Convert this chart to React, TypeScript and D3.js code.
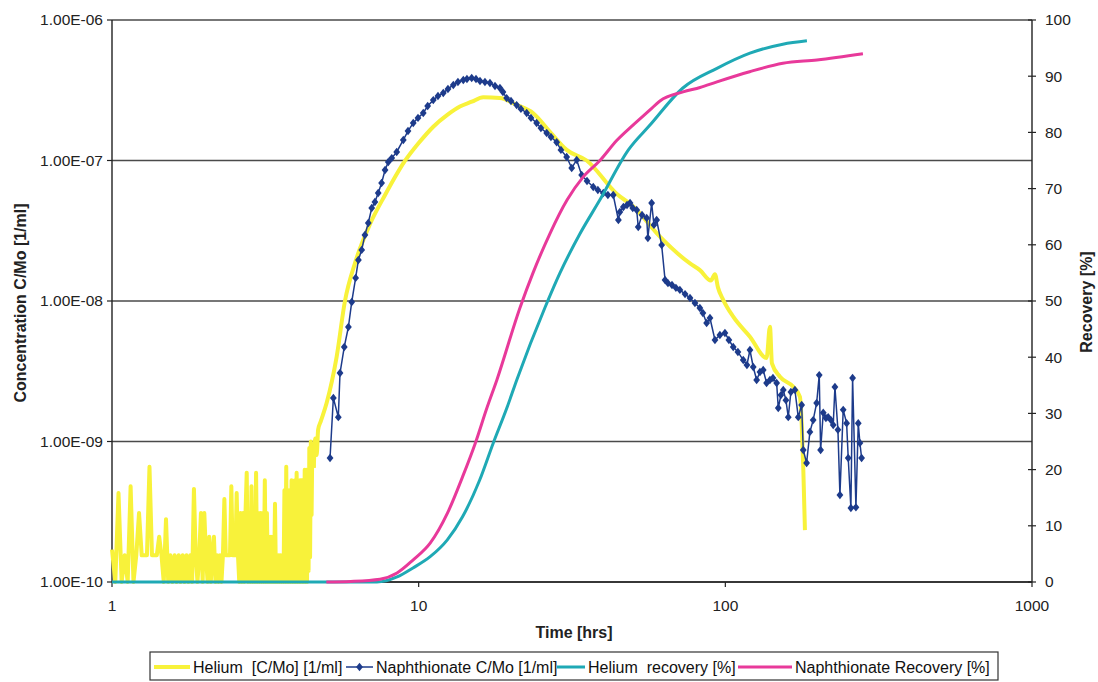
import React from "react";
import * as d3 from "d3";

// ---------- axes / ticks ----------
const xTickValues = [1, 10, 100, 1000];
const xTickLabels = ["1", "10", "100", "1000"];
const leftTickValues = [1e-10, 1e-9, 1e-8, 1e-7, 1e-6];
const leftTickLabels = ["1.00E-10", "1.00E-09", "1.00E-08", "1.00E-07", "1.00E-06"];
const rightTickValues = [0, 10, 20, 30, 40, 50, 60, 70, 80, 90, 100];

// ---------- Helium concentration (C/Mo, 1/ml) ----------
// background record: first sample at 1 h, one sample every 0.025 h, values in units of 1e-10
const heliumNoiseStartHr = 1.0;
const heliumNoiseStepHr = 0.025;
const heliumNoiseE10 = [
  1.7, 1.0, 4.3, 1.0, 1.55, 1.0, 4.8, 1.0, 1.55, 3.1,
  1.55, 1.55, 1.55, 6.6, 1.55, 1.55, 1.55, 2.1, 1.55, 1.0,
  2.8, 1.0, 1.55, 1.0, 1.55, 1.0, 1.55, 1.0, 1.55, 1.0,
  1.55, 1.0, 1.55, 1.0, 4.6, 1.55, 1.0, 1.55, 3.1, 1.0,
  3.1, 1.55, 1.0, 2.1, 1.0, 1.55, 2.1, 1.0, 1.55, 1.0,
  1.55, 1.0, 1.55, 3.9, 1.55, 1.55, 1.55, 1.55, 4.8, 1.55,
  1.55, 1.55, 4.3, 1.55, 1.0, 3.1, 1.0, 3.1, 1.0, 3.1,
  6.0, 1.0, 3.1, 1.0, 4.8, 1.0, 3.1, 1.0, 6.0, 1.0,
  3.1, 1.0, 3.1, 1.0, 3.1, 1.0, 5.3, 1.0, 3.1, 1.0,
  2.1, 1.0, 2.1, 1.0, 2.1, 1.0, 3.6, 1.0, 1.55, 1.0,
  1.55, 1.0, 1.55, 1.0, 1.55, 1.0, 4.5, 1.0, 6.6, 1.0,
  4.5, 1.0, 4.5, 1.0, 5.3, 1.0, 4.5, 1.0, 5.3, 1.0,
  6.0, 1.0, 4.8, 1.0, 5.3, 1.0, 5.3, 1.0, 5.3, 1.0,
  6.3, 1.0, 6.3, 1.0, 6.3, 1.2, 9.0, 1.5, 10.0, 3.0,
  9.5,
];
const heliumTimeHr = [
  4.55, 4.6, 4.65, 4.7, 4.8, 5.01, 5.4, 5.75, 6.2, 6.94, 7.77, 9.02, 10.0, 11.16,
  12.4, 13.63, 14.9, 16.24, 18.41, 20.87, 23.64, 26.8, 30.38, 35.3, 44.2, 50.1,
  61.2, 76.7, 82.6, 89.7, 92.5, 94.6, 98.4, 106.1, 120.3, 136.3, 139.8, 141.9,
  150.7, 166.5, 175.1, 177.4, 179.5, 181.8,
];
const heliumConc = [
  6.5e-10, 1.05e-9, 8e-10, 1.21e-9, 1.4e-9, 1.88e-9, 3.99e-9, 1.0e-8, 1.86e-8, 3.53e-8,
  5.68e-8, 9.92e-8, 1.33e-7, 1.74e-7, 2.11e-7, 2.42e-7, 2.62e-7, 2.82e-7, 2.78e-7,
  2.49e-7, 2.17e-7, 1.6e-7, 1.19e-7, 1.0e-7, 5.8e-8, 4.7e-8, 2.87e-8, 1.85e-8,
  1.66e-8, 1.4e-8, 1.55e-8, 1.25e-8, 1.02e-8, 7.73e-9, 5.57e-9, 3.93e-9, 6.57e-9,
  3.6e-9, 2.89e-9, 2.45e-9, 2.08e-9, 1.35e-9, 6.6e-10, 2.34e-10,
];

// ---------- Naphthionate concentration (C/Mo, 1/ml) ----------
const naphTimeHr = [
  5.14, 5.27, 5.47, 5.54, 5.72, 5.9, 6.05, 6.23, 6.36, 6.52, 6.68, 6.85, 7.03, 7.2,
  7.38, 7.57, 7.77, 7.96, 8.17, 8.48, 8.91, 9.23, 9.6, 9.95, 10.35, 10.7, 11.16,
  11.56, 12.03, 12.46, 12.97, 13.43, 13.98, 14.37, 14.89, 15.38, 15.85, 16.45,
  17.08, 17.74, 18.41, 18.83, 19.36, 20.0, 20.87, 21.55, 22.5, 23.24, 24.25,
  25.04, 26.15, 27.0, 28.18, 29.1, 30.38, 31.55, 32.76, 34.0, 35.4, 37.1, 38.4,
  40.0, 41.4, 43.1, 44.8, 45.3, 46.5, 47.8, 48.9, 49.9, 51.4, 52.0, 53.5, 55.4,
  55.9, 57.5, 58.5, 59.7, 62.0, 63.6, 65.0, 67.0, 69.0, 71.1, 73.9, 76.7, 79.6,
  82.6, 84.5, 86.9, 89.1, 92.5, 96.0, 99.7, 102.7, 106.1, 109.9, 114.4, 117.6,
  120.3, 123.3, 126.5, 129.7, 132.9, 136.3, 139.8, 143.0, 147.0, 148.8, 151.8,
  154.5, 157.6, 160.4, 163.6, 168.6, 172.9, 177.4, 179.5, 184.1, 188.7, 193.4,
  198.5, 202.4, 204.5, 208.6, 212.8, 216.5, 221.0, 224.8, 227.7, 232.9, 236.4,
  242.3, 248.6, 251.6, 256.7, 260.0, 266.6, 271.3, 274.7, 278.2,
];
const naphConc = [
  7.63e-10, 2.04e-9, 1.49e-9, 3.07e-9, 4.71e-9, 6.53e-9, 9.84e-9, 1.46e-8, 1.96e-8,
  2.31e-8, 2.95e-8, 3.59e-8, 4.59e-8, 5.07e-8, 5.87e-8, 6.92e-8, 8.56e-8, 9.76e-8,
  1.04e-7, 1.15e-7, 1.4e-7, 1.62e-7, 1.85e-7, 2.01e-7, 2.18e-7, 2.44e-7, 2.69e-7,
  2.88e-7, 3.02e-7, 3.23e-7, 3.45e-7, 3.62e-7, 3.74e-7, 3.8e-7, 3.87e-7, 3.8e-7,
  3.68e-7, 3.62e-7, 3.56e-7, 3.39e-7, 3.28e-7, 3.07e-7, 2.78e-7, 2.65e-7, 2.48e-7,
  2.33e-7, 2.18e-7, 2.01e-7, 1.85e-7, 1.7e-7, 1.57e-7, 1.47e-7, 1.35e-7, 1.19e-7,
  1.06e-7, 8.85e-8, 1.01e-7, 7.88e-8, 7.15e-8, 6.48e-8, 6.17e-8, 5.87e-8, 5.68e-8,
  5.68e-8, 3.77e-8, 4.3e-8, 4.67e-8, 4.82e-8, 4.98e-8, 4.59e-8, 4.44e-8, 3.36e-8,
  4.09e-8, 3.9e-8, 2.81e-8, 4.98e-8, 3.48e-8, 3.77e-8, 2.5e-8, 1.41e-8, 1.34e-8,
  1.3e-8, 1.24e-8, 1.2e-8, 1.12e-8, 1.05e-8, 9.68e-9, 8.92e-9, 8.21e-9, 6.97e-9,
  7.57e-9, 5.28e-9, 5.73e-9, 5.92e-9, 5.28e-9, 4.71e-9, 4.34e-9, 3.8e-9, 3.5e-9,
  4.48e-9, 3.39e-9, 2.74e-9, 3.12e-9, 3.23e-9, 2.61e-9, 2.74e-9, 2.83e-9, 2.61e-9,
  1.73e-9, 2.14e-9, 2.33e-9, 1.97e-9, 1.49e-9, 2.25e-9, 2.33e-9, 1.49e-9, 1.82e-9,
  8.7e-10, 7.03e-10, 1.17e-9, 1.42e-9, 1.88e-9, 2.97e-9, 8.7e-10, 1.6e-9, 1.47e-9,
  1.49e-9, 1.42e-9, 1.31e-9, 2.44e-9, 1.21e-9, 4.16e-10, 1.68e-9, 1.35e-9, 7.63e-10,
  3.36e-10, 2.83e-9, 3.4e-10, 1.35e-9, 9.75e-10, 7.63e-10,
];

// ---------- Recovery (%) ----------
const heRecTimeHr = [1.0, 7.31, 8.5, 9.58, 10.9, 12.4, 13.9, 15.8, 17.5, 19.4, 20.9, 25.8, 28.9, 33.6, 39.0, 48.3, 56.8, 72.7, 93.9, 120.3, 154, 184.5];
const heRecPct = [0, 0, 0.9, 2.5, 4.5, 7.5, 11.6, 18.1, 24.7, 31, 36, 48.8, 55, 62, 68, 76.9, 81.3, 87.9, 91.4, 94.1, 95.7, 96.3];
const naphRecTimeHr = [5.0, 6.0, 7.48, 8.5, 9.58, 10.9, 12.4, 13.9, 15.3, 16.7, 18.0, 21.4, 23.6, 26.8, 30.5, 34.3, 39.0, 44.3, 50.0, 56.8, 61.2, 72.8, 82.7, 93.9, 120, 154, 199, 281];
const naphRecPct = [0, 0.1, 0.5, 1.6, 3.9, 6.9, 12.2, 18.7, 24.7, 31, 36, 48.8, 55, 62, 68, 72, 75, 78.6, 81.3, 84, 85.6, 87.2, 88, 89, 90.8, 92.3, 92.9, 94];

// ---------- legend ----------
const legendLabels = [
  "Helium  [C/Mo] [1/ml]",
  "Naphthionate C/Mo [1/ml]",
  "Helium  recovery [%]",
  "Naphthionate Recovery [%]",
];

const COLORS = {
  helium: "#f8f23a",
  naph: "#1d3b8b",
  heRec: "#1fa9b5",
  naphRec: "#e8399a",
  grid: "#4a4a4a",
};

const FONT = "'Liberation Sans', Arial, Helvetica, sans-serif";

type Pt = { t: number; v: number };

export default function App() {
  const W = 1098, H = 682;
  const L = 112, R = 1032, T = 20, B = 582;

  const x = d3.scaleLog().domain([1, 1000]).range([L, R]);
  const yL = d3.scaleLog().domain([1e-10, 1e-6]).range([B, T]);
  const yR = d3.scaleLinear().domain([0, 100]).range([B, T]);

  const noisePts: Pt[] = heliumNoiseE10.map((v, i) => ({
    t: heliumNoiseStartHr + i * heliumNoiseStepHr,
    v: v * 1e-10,
  }));
  const risePts: Pt[] = heliumTimeHr.map((t, i) => ({ t, v: heliumConc[i] }));
  const naphPts: Pt[] = naphTimeHr.map((t, i) => ({ t, v: naphConc[i] }));
  const heRecPts: Pt[] = heRecTimeHr.map((t, i) => ({ t, v: heRecPct[i] }));
  const naphRecPts: Pt[] = naphRecTimeHr.map((t, i) => ({ t, v: naphRecPct[i] }));

  const lineL = d3.line<Pt>().x((d) => x(d.t)).y((d) => yL(d.v));
  const lineLSmooth = d3
    .line<Pt>()
    .x((d) => x(d.t))
    .y((d) => yL(d.v))
    .curve(d3.curveMonotoneX);
  const lineR = d3
    .line<Pt>()
    .x((d) => x(d.t))
    .y((d) => yR(d.v))
    .curve(d3.curveMonotoneX);

  const diamond = "M0,-4.2L3.4,0L0,4.2L-3.4,0Z";

  const legendY = 667;
  const legendItems = [
    { sx: 154, ex: 190, tx: 193, color: COLORS.helium, w: 4, marker: false },
    { sx: 346, ex: 373, tx: 376, color: COLORS.naph, w: 1.5, marker: true },
    { sx: 557, ex: 585, tx: 588, color: COLORS.heRec, w: 3, marker: false },
    { sx: 738, ex: 792, tx: 795, color: COLORS.naphRec, w: 3, marker: false },
  ];

  return (
    <svg
      width={W}
      height={H}
      viewBox={`0 0 ${W} ${H}`}
      style={{ position: "absolute", left: 0, top: 0, background: "#fff" }}
      fontFamily={FONT}
    >
      <rect x={0} y={0} width={W} height={H} fill="#fff" />

      {/* gridlines */}
      {leftTickValues.map((v, i) => (
        <line key={"g" + i} x1={L} x2={R} y1={yL(v)} y2={yL(v)} stroke={COLORS.grid} strokeWidth={1.3} />
      ))}

      {/* axes */}
      <line x1={L} x2={L} y1={T} y2={B} stroke="#222" strokeWidth={1.4} />
      <line x1={R} x2={R} y1={T} y2={B} stroke="#222" strokeWidth={1.4} />
      <line x1={L} x2={R} y1={B} y2={B} stroke="#222" strokeWidth={1.4} />

      {/* left ticks */}
      {leftTickValues.map((v, i) => (
        <g key={"lt" + i}>
          <line x1={L - 5} x2={L} y1={yL(v)} y2={yL(v)} stroke="#222" strokeWidth={1.2} />
          <text x={103} y={yL(v)} dy="0.35em" textAnchor="end" fontSize={15.5} fill="#222">
            {leftTickLabels[i]}
          </text>
        </g>
      ))}

      {/* right ticks */}
      {rightTickValues.map((v, i) => (
        <g key={"rt" + i}>
          <line x1={R - 4} x2={R + 4} y1={yR(v)} y2={yR(v)} stroke="#222" strokeWidth={1.2} />
          <text x={1045} y={yR(v)} dy="0.35em" textAnchor="start" fontSize={15.5} fill="#222">
            {v}
          </text>
        </g>
      ))}

      {/* bottom ticks */}
      {xTickValues.map((v, i) => (
        <g key={"xt" + i}>
          <line x1={x(v)} x2={x(v)} y1={B} y2={B + 5} stroke="#222" strokeWidth={1.2} />
          <text x={x(v)} y={611} textAnchor="middle" fontSize={15.5} fill="#222">
            {xTickLabels[i]}
          </text>
        </g>
      ))}

      {/* axis titles */}
      <text x={574} y={638} textAnchor="middle" fontSize={16} fontWeight="bold" fill="#222">
        Time [hrs]
      </text>
      <text
        transform={`translate(26,303) rotate(-90)`}
        textAnchor="middle"
        fontSize={16}
        fontWeight="bold"
        fill="#222"
      >
        Concentration C/Mo [1/ml]
      </text>
      <text
        transform={`translate(1092,302) rotate(-90)`}
        textAnchor="middle"
        fontSize={16}
        fontWeight="bold"
        fill="#222"
      >
        Recovery [%]
      </text>

      {/* series */}
      <path
        d={lineL([...noisePts, risePts[0]]) || ""}
        fill="none"
        stroke={COLORS.helium}
        strokeWidth={4}
        strokeLinejoin="round"
      />
      <path
        d={lineLSmooth(risePts) || ""}
        fill="none"
        stroke={COLORS.helium}
        strokeWidth={4}
        strokeLinejoin="round"
      />
      <path d={lineL(naphPts) || ""} fill="none" stroke={COLORS.naph} strokeWidth={1.5} />
      {naphPts.map((d, i) => (
        <path key={"m" + i} d={diamond} transform={`translate(${x(d.t)},${yL(d.v)})`} fill={COLORS.naph} />
      ))}
      <path d={lineR(heRecPts) || ""} fill="none" stroke={COLORS.heRec} strokeWidth={3} />
      <path d={lineR(naphRecPts) || ""} fill="none" stroke={COLORS.naphRec} strokeWidth={3} />

      {/* legend */}
      <rect x={150} y={652} width={848} height={28} fill="#fff" stroke="#333" strokeWidth={1.2} />
      {legendItems.map((it, i) => (
        <g key={"lg" + i}>
          <line x1={it.sx} x2={it.ex} y1={legendY} y2={legendY} stroke={it.color} strokeWidth={it.w} />
          {it.marker && (
            <path d={diamond} transform={`translate(${(it.sx + it.ex) / 2},${legendY})`} fill={it.color} />
          )}
          <text x={it.tx} y={legendY} dy="0.36em" fontSize={16} fill="#111" style={{ whiteSpace: "pre" }}>
            {legendLabels[i]}
          </text>
        </g>
      ))}
    </svg>
  );
}
